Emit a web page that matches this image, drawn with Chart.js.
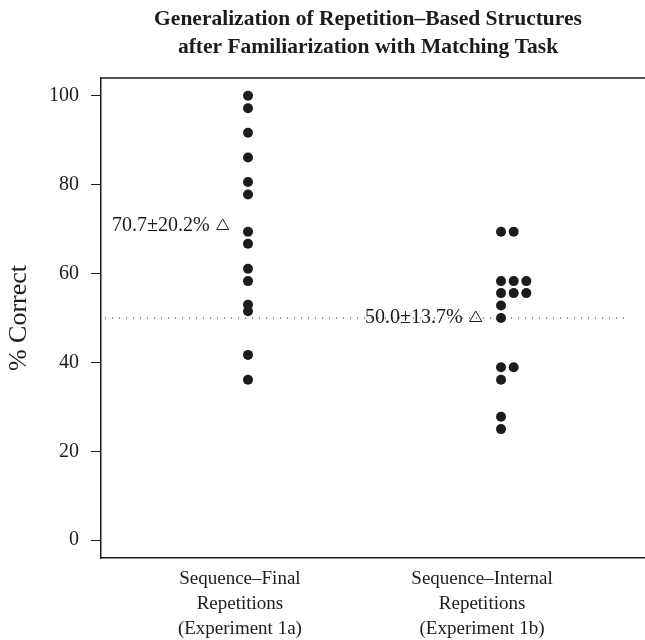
<!DOCTYPE html>
<html>
<head>
<meta charset="utf-8">
<script src="https://cdn.jsdelivr.net/npm/chart.js@4.4.1/dist/chart.umd.min.js"></script>
<style>
  html, body { margin: 0; padding: 0; background: #fff; overflow: hidden; }
  canvas { display: block; }
</style>
</head>
<body>
<canvas id="chart" width="645" height="640"></canvas>
<script>
const titleLines = ["Generalization of Repetition\u2013Based Structures", "after Familiarization with Matching Task"];
const groupLabels = [
    ["Sequence\u2013Final", "Repetitions", "(Experiment 1a)"],
    ["Sequence\u2013Internal", "Repetitions", "(Experiment 1b)"]
];
const groupPos = [1, 2];
const labelPos = [0.968, 1.925];
const finalScores = [100, 97.2, 91.7, 86.1, 80.6, 77.8, 69.4, 66.7, 61.1, 58.3, 53.0, 51.5, 41.7, 36.1];
const internalScores = [69.4, 69.4, 58.3, 58.3, 58.3, 55.6, 55.6, 55.6, 52.8, 50.0, 38.9, 38.9, 36.1, 27.8, 25.0];
const groupMeans = [70.7, 50.0];
const meanLabels = ["70.7\u00b120.2%", "50.0\u00b113.7%"];
const chanceLevel = 50;
const chanceRange = [0.435, 2.51];
const yTicks = [0, 20, 40, 60, 80, 100];

const SERIF = '"Liberation Serif", "DejaVu Serif", serif';
const INK = '#1c1c1c';
const STACK_STEP = 0.05;
const MEAN_OFFSET = -0.1;

// stack equal scores side by side, like a stripchart
function stackPoints(scores, base) {
    const seen = {};
    return scores.map(v => {
        const n = seen[v] || 0;
        seen[v] = n + 1;
        return { x: base + n * STACK_STEP, y: v };
    });
}

const framePlugin = {
    id: 'frame',
    afterDatasetsDraw(chart) {
        const { ctx, chartArea, scales } = chart;
        ctx.save();
        ctx.strokeStyle = INK;
        ctx.lineWidth = 1.5;
        ctx.beginPath();
        ctx.moveTo(chartArea.left, chartArea.top);
        ctx.lineTo(chartArea.right, chartArea.top);
        ctx.stroke();

        ctx.fillStyle = INK;
        ctx.font = '20px ' + SERIF;
        ctx.textAlign = 'right';
        ctx.textBaseline = 'middle';
        groupMeans.forEach((m, i) => {
            const px = scales.x.getPixelForValue(groupPos[i] + MEAN_OFFSET);
            const py = scales.y.getPixelForValue(m);
            ctx.fillText(meanLabels[i], px - 13, py);
        });
        ctx.restore();
    },
    afterDraw(chart) {
        const { ctx, chartArea } = chart;
        ctx.save();
        ctx.fillStyle = INK;
        ctx.font = 'bold 21.5px ' + SERIF;
        ctx.textAlign = 'center';
        ctx.textBaseline = 'middle';
        const cx = (chartArea.left + chartArea.right) / 2 - 5;
        titleLines.forEach((t, i) => ctx.fillText(t, cx, 19 + i * 28));
        ctx.restore();
    }
};

const ctx = document.getElementById('chart').getContext('2d');

new Chart(ctx, {
    type: 'scatter',
    data: {
        datasets: [
            {
                label: 'chance',
                type: 'line',
                data: chanceRange.map(x => ({ x: x, y: chanceLevel })),
                borderColor: INK,
                borderWidth: 1,
                borderDash: [1, 6],
                pointRadius: 0,
                fill: false
            },
            {
                label: 'Sequence-Final',
                data: stackPoints(finalScores, groupPos[0]),
                backgroundColor: INK,
                borderColor: INK,
                pointRadius: 5,
                borderWidth: 0
            },
            {
                label: 'Sequence-Internal',
                data: stackPoints(internalScores, groupPos[1]),
                backgroundColor: INK,
                borderColor: INK,
                pointRadius: 5,
                borderWidth: 0
            },
            {
                label: 'mean',
                data: groupMeans.map((m, i) => ({ x: groupPos[i] + MEAN_OFFSET, y: m })),
                pointStyle: 'triangle',
                backgroundColor: 'rgba(0,0,0,0)',
                borderColor: INK,
                borderWidth: 1,
                pointRadius: 7
            }
        ]
    },
    options: {
        responsive: false,
        animation: false,
        devicePixelRatio: 1,
        layout: { autoPadding: false, padding: { top: 78, left: 0, right: 0, bottom: 0 } },
        plugins: {
            legend: { display: false },
            tooltip: { enabled: false },
            title: { display: false }
        },
        scales: {
            x: {
                type: 'linear',
                min: 0.419,
                max: 2.569,
                afterBuildTicks: scale => { scale.ticks = labelPos.map(v => ({ value: v })); },
                afterFit: scale => { scale.height = 82; },
                grid: { display: true, drawOnChartArea: false, drawTicks: false },
                border: { display: true, color: INK, width: 1.5 },
                ticks: {
                    autoSkip: false,
                    maxRotation: 0,
                    padding: 9,
                    color: INK,
                    font: { family: SERIF, size: 19, lineHeight: 1.3 },
                    callback: (v, i) => groupLabels[i]
                }
            },
            y: {
                min: -4,
                max: 104,
                afterBuildTicks: scale => { scale.ticks = yTicks.map(v => ({ value: v })); },
                afterFit: scale => { scale.width = 101; },
                grid: { drawOnChartArea: false, drawTicks: true, tickLength: 10, tickColor: INK, tickWidth: 1 },
                border: { display: true, color: INK, width: 1.5 },
                ticks: {
                    padding: 12,
                    color: INK,
                    font: { family: SERIF, size: 20 }
                },
                title: {
                    display: true,
                    text: '% Correct',
                    color: INK,
                    padding: { top: 4, bottom: 0 },
                    font: { family: SERIF, size: 26 }
                }
            }
        }
    },
    plugins: [framePlugin]
});
</script>
</body>
</html>
